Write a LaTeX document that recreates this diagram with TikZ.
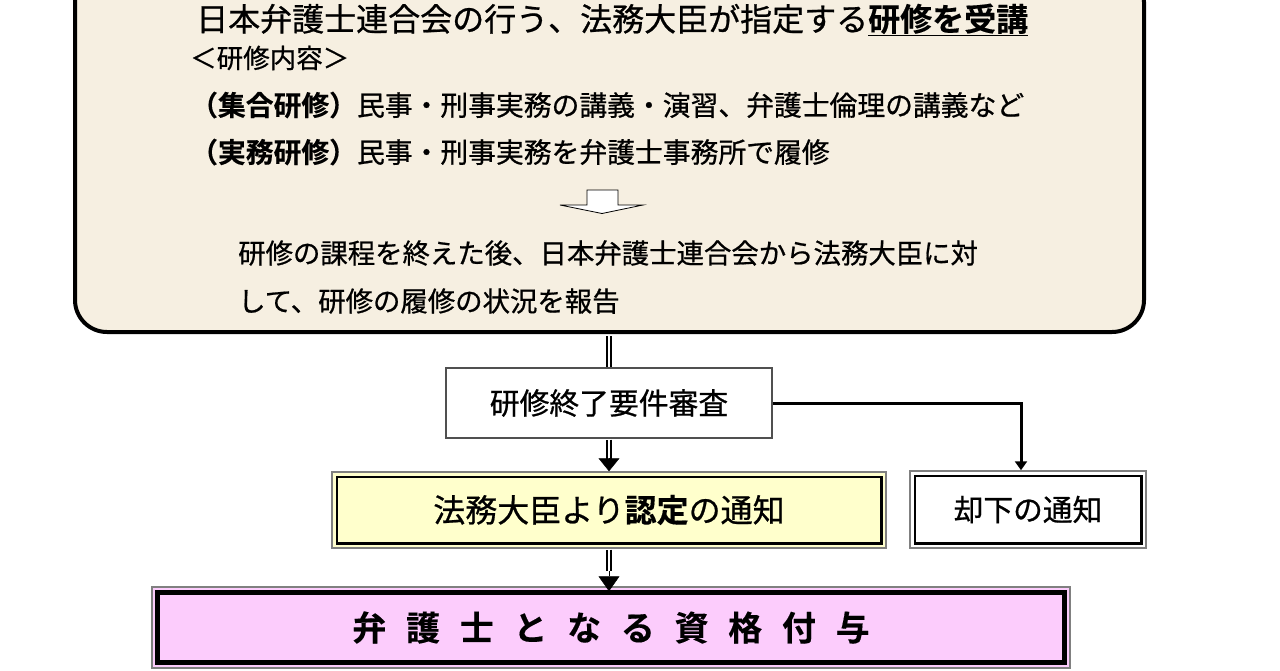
\documentclass[tikz,border=0pt]{standalone}
\usepackage{fontspec}
\newfontfamily\jp{Noto Sans CJK JP}[FakeBold=0.7, BoldFont={Noto Sans CJK JP Bold}, BoldFeatures={FakeBold=0.3}]
\usetikzlibrary{arrows.meta}
\definecolor{beige}{RGB}{246,239,225}
\definecolor{lyellow}{RGB}{255,255,204}
\definecolor{lpink}{RGB}{252,204,252}
\definecolor{edge}{RGB}{80,80,80}
\newcommand\fsz[1]{\fontsize{#1}{#1}\selectfont}
\begin{document}
\begin{tikzpicture}[x=1pt,y=-1pt,
  jt/.style={inner sep=0pt, anchor=base west},
  dline/.style={draw=black, line width=2.2pt, double=white, double distance=2.2pt},
  tipline/.style={line width=0.5pt, -{Triangle[width=21pt,length=#1]}},
  boxA/.style={draw=gray, line width=1.5pt, inner sep=0pt}]
\useasboundingbox (0,0) rectangle (1280,670);

% top rounded box
\node[draw=black, line width=4pt, fill=beige, rounded corners=32pt,
      minimum width=1069pt, minimum height=362pt, inner sep=0pt] (top) at (609.5,151) {};

\node[jt, font=\jp\fsz{32}] (t1) at (196,31)
  {日本弁護士連合会の行う、法務大臣が指定する\underline{\textbf{研修を受講}}};
\node[jt, font=\jp\fsz{26.5}] (t2) at (190,68) {＜研修内容＞};
\node[jt, font=\jp\fsz{27.8}] (t3) at (190,115.6)
  {\textbf{（集合研修）}民事・刑事実務の講義・演習、弁護士倫理の講義など};
\node[jt, font=\jp\fsz{27.8}] (t4) at (190,162.6)
  {\textbf{（実務研修）}民事・刑事実務を弁護士事務所で履修};
\draw[line width=0.8pt, fill=white] (587,190) -- (618,190) -- (618,205) -- (643,205)
  -- (602,213.5) -- (560,205) -- (587,205) -- cycle;
\node[jt, font=\jp\fsz{27.4}] (t5) at (238,263.4)
  {研修の課程を終えた後、日本弁護士連合会から法務大臣に対};
\node[jt, font=\jp\fsz{27.4}] (t6) at (238,311.4)
  {して、研修の履修の状況を報告};

% review box
\node[draw=edge, line width=1.5pt, fill=white, minimum width=326pt, minimum height=70pt,
      inner sep=0pt, font=\jp\fsz{29.8}] (shen) at (609,403) {研修終了要件審査};

% approval box
\node[boxA, fill=lyellow, minimum width=554pt, minimum height=76pt,
      font=\jp\fsz{32}] (nin) at (609,510) {法務大臣より\textbf{認定}の通知};
\draw[line width=2.5pt] ([shift={(5.5pt,-5.5pt)}]nin.north west) rectangle ([shift={(-5.5pt,5.5pt)}]nin.south east);

% rejection box
\node[boxA, fill=white, minimum width=236pt, minimum height=77pt,
      font=\jp\fsz{29.7}] (kyak) at (1028,509.5) {却下の通知};
\draw[line width=2.5pt] ([shift={(5.5pt,-5.5pt)}]kyak.north west) rectangle ([shift={(-5.5pt,5.5pt)}]kyak.south east);

% qualification box
\node[boxA, fill=lpink, minimum width=918pt, minimum height=81pt,
      font=\jp\bfseries\fsz{34}] (shik) at (611,627.5)
  {弁\hspace{19.7pt}護\hspace{19.7pt}士\hspace{19.7pt}と\hspace{19.7pt}な\hspace{19.7pt}る\hspace{19.7pt}資\hspace{19.7pt}格\hspace{19.7pt}付\hspace{19.7pt}与};
\draw[line width=5pt] ([shift={(6.5pt,-6.5pt)}]shik.north west) rectangle ([shift={(-6.5pt,6.5pt)}]shik.south east);

% connectors
\draw[dline, shorten <=2pt, shorten >=0.75pt] (top.south -| shen.north) -- (shen.north);
\draw[dline, shorten <=0.75pt, shorten >=12pt] (shen.south) -- (nin.north);
\draw[tipline=13pt] ([yshift=13pt]nin.north) -- (nin.north);
\draw[dline, shorten <=0.75pt, shorten >=20pt] (nin.south) -- ([yshift=-5pt]nin.south |- shik.north);
\draw[tipline=15pt] ([yshift=15pt]nin.south |- shik.north) -- ([yshift=-5pt]nin.south |- shik.north);
\draw[line width=3pt, -{Triangle[width=12pt,length=9pt]}] (shen.east) -| ([xshift=-7pt]kyak.north);
\end{tikzpicture}
\end{document}
